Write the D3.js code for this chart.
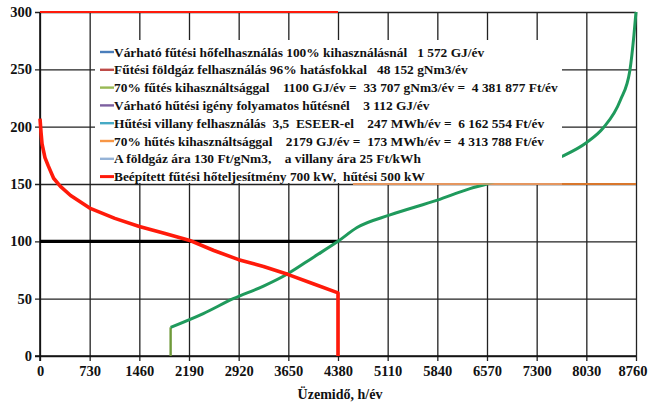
<!DOCTYPE html>
<html><head><meta charset="utf-8">
<script src="https://cdn.jsdelivr.net/npm/d3@7"></script>
<style>body{margin:0;background:#fff}svg{display:block}</style>
</head><body><svg id="c" width="648" height="408"></svg>
<script>
const xTicks=[0,730,1460,2190,2920,3650,4380,5110,5840,6570,7300,8030,8760];
const yTicks=[0,50,100,150,200,250,300];
const heatX=[0,15,30,73,120,200,300,450,730,1100,1460,1825,2190,2555,2920,3285,3650,4015,4380,4380];
const heatY=[207,195,185,173,166,155,148,140,129,120,113,107,101,92,84,78,71,63,55,0];
const coolX=[1920,2400,2840,3285,3650,4015,4380,4660,5145,5840,6320,6570,7100,7670,8030,8280,8530,8670,8730,8760];
const coolY=[25,37,50,61,72,86,100,112,123,136,146,150,161,174,186,199,223,249,280,300];
const stemX=[1920,1920], stemY=[0,25];
const capX=[0,4380], capY=[300,300];
const baseX=[0,4380], baseY=[100,100];
const coolCapX=[4600,8760], coolCapY=[150,150];
const legendLabels=[
"Várható fűtési hőfelhasználás 100% kihasználásnál   1 572 GJ/év",
"Fűtési földgáz felhasználás 96% hatásfokkal   48 152 gNm3/év",
"70% fűtés kihasználtsággal    1100 GJ/év =  33 707 gNm3/év =  4 381 877 Ft/év",
"Várható hűtési igény folyamatos hűtésnél    3 112 GJ/év",
"Hűtési villany felhasználás  3,5  ESEER-el    247 MWh/év =  6 162 554 Ft/év",
"70% hűtés kihasználtsággal    2179 GJ/év =  173 MWh/év =  4 313 788 Ft/év",
"A földgáz ára 130 Ft/gNm3,    a villany ára 25 Ft/kWh",
"Beépített fűtési hőteljesítmény 700 kW,  hűtési 500 kW"];
const legendColors=["#4a7ebb","#be4b48","#98b954","#7d60a0","#46aac5","#f79646","#95b3d7","#ff1a0a"];
const FONT="'Liberation Serif', 'Times New Roman', Times, serif";

const svg=d3.select("#c").attr("font-family",FONT).attr("font-weight","bold");
const x=d3.scaleLinear().domain([0,8760]).range([40,636]);
const y=d3.scaleLinear().domain([0,300]).range([356,12]);
const line=d3.line().x(d=>x(d[0])).y(d=>y(d[1]));
const zip=(a,b)=>a.map((v,i)=>[v,b[i]]);

// grid
const gx=svg.append("g").attr("transform","translate(0,356)")
 .call(d3.axisBottom(x).tickValues(xTicks).tickSize(-344).tickSizeOuter(0).tickPadding(6).tickFormat(d3.format("d")));
gx.attr("font-family",FONT).attr("font-weight","bold");
gx.select(".domain").remove();
gx.selectAll("line").attr("stroke","#222").attr("stroke-width",1.3).attr("y1",5);
gx.selectAll("text").attr("font-size",14.5).attr("fill","#111").attr("dy","0.95em");
gx.selectAll(".tick").filter(d=>d===8760).select("text").attr("text-anchor","end").attr("x",11);
const gy=svg.append("g").attr("transform","translate(40,0)")
 .call(d3.axisLeft(y).tickValues(yTicks).tickSize(-596).tickSizeOuter(0).tickPadding(8));
gy.attr("font-family",FONT).attr("font-weight","bold");
gy.select(".domain").remove();
gy.selectAll("line").attr("stroke","#222").attr("stroke-width",1.3).attr("x1",-5);
gy.selectAll("text").attr("font-size",14.5).attr("fill","#111");
svg.append("line").attr("x1",40).attr("x2",40).attr("y1",12).attr("y2",361).attr("stroke","#111").attr("stroke-width",1.6);
svg.append("line").attr("x1",35).attr("x2",636).attr("y1",356).attr("y2",356).attr("stroke","#111").attr("stroke-width",1.6);

// series
svg.append("path").datum(zip(coolCapX,coolCapY)).attr("d",line).attr("fill","none").attr("stroke","#d9772c").attr("stroke-width",2.2);
svg.append("path").datum(zip(baseX,baseY)).attr("d",line).attr("fill","none").attr("stroke","#000").attr("stroke-width",3.2);
svg.append("path").datum(zip(capX,capY)).attr("d",line).attr("fill","none").attr("stroke","#ff1a0a").attr("stroke-width",2);
svg.append("path").datum(zip(stemX,stemY)).attr("d",line).attr("fill","none").attr("stroke","#6f9a3a").attr("stroke-width",2.4);
svg.append("path").datum(zip(coolX,coolY)).attr("d",d3.line().x(d=>x(d[0])).y(d=>y(d[1])).curve(d3.curveMonotoneX)).attr("fill","none").attr("stroke","#1f9a5c").attr("stroke-width",3);
svg.append("path").datum(zip(heatX,heatY)).attr("d",line).attr("fill","none").attr("stroke","#ff1a0a").attr("stroke-width",3.6).attr("stroke-linejoin","round");

// legend
const lg=svg.append("g");
lg.append("rect").attr("x",95).attr("y",40).attr("width",467).attr("height",143).attr("fill","#fff");
lg.append("line").attr("x1",x(coolCapX[0])).attr("x2",562).attr("y1",y(150)).attr("y2",y(150)).attr("stroke","#e8a070").attr("stroke-width",1.3);
legendLabels.forEach((t,i)=>{
  const yy=52+i*17.8;
  lg.append("line").attr("x1",100).attr("x2",114).attr("y1",yy).attr("y2",yy).attr("stroke",legendColors[i]).attr("stroke-width",i===7?3:2.4);
  lg.append("text").attr("x",114).attr("y",yy).attr("dy","0.35em").attr("font-size",13.4).attr("fill","#111").attr("font-family",FONT).attr("font-weight","bold").style("white-space","pre").text(t);
});

svg.append("text").attr("x",340).attr("y",399).attr("text-anchor","middle").attr("font-size",14).attr("fill","#111").text("Üzemidő, h/év");
</script></body></html>
